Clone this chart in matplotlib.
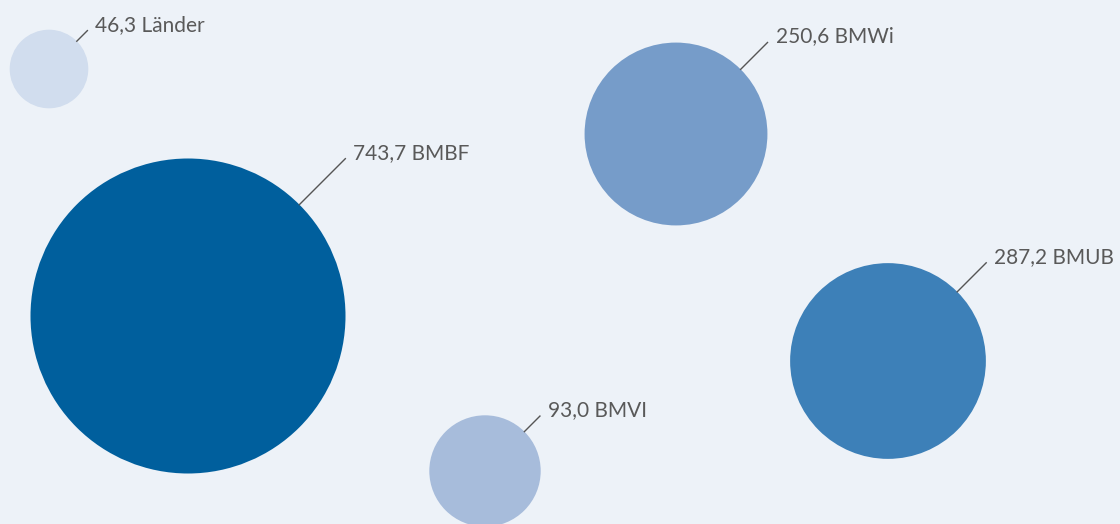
import numpy as np
import matplotlib.pyplot as plt
from matplotlib.patches import Circle

# Ausgaben in Mio. Euro
labels = ["Länder", "BMBF", "BMWi", "BMUB", "BMVI"]
values = [46.3, 743.7, 250.6, 287.2, 93.0]

# layout (pixel coordinates, y downwards)
centers_x = [49, 188, 676, 888, 485]
centers_y = [69, 316, 134, 361, 471]
leader_len = [15, 65, 38, 41, 22]
colors = ["#d1ddee", "#005f9d", "#769cc9", "#3d80b8", "#a7bcdb"]

bg = "#edf2f8"
scale = 157.5 / np.sqrt(743.7)

fig = plt.figure(figsize=(11.2, 5.24), dpi=100)
fig.patch.set_facecolor(bg)
ax = fig.add_axes([0, 0, 1, 1])
ax.set_facecolor(bg)
ax.set_xlim(0, 1120)
ax.set_ylim(524, 0)
ax.set_aspect("equal")
ax.axis("off")

d = np.sqrt(0.5)
for lab, val, cx, cy, ll, col in zip(labels, values, centers_x, centers_y, leader_len, colors):
    r = scale * np.sqrt(val)
    ax.add_patch(Circle((cx, cy), r, facecolor=col, edgecolor="none"))
    x0, y0 = cx + r * d, cy - r * d
    x1, y1 = x0 + ll * d, y0 - ll * d
    ax.plot([x0, x1], [y0, y1], color="#555555", lw=1.0)
    txt = f"{val:.1f}".replace(".", ",") + " " + lab
    ax.text(x1 + 8, y1, txt, ha="left", va="baseline", fontsize=15,
            color="#595959", family=["Lato", "DejaVu Sans"])

fig.savefig("out.png", dpi=100, facecolor=bg)
